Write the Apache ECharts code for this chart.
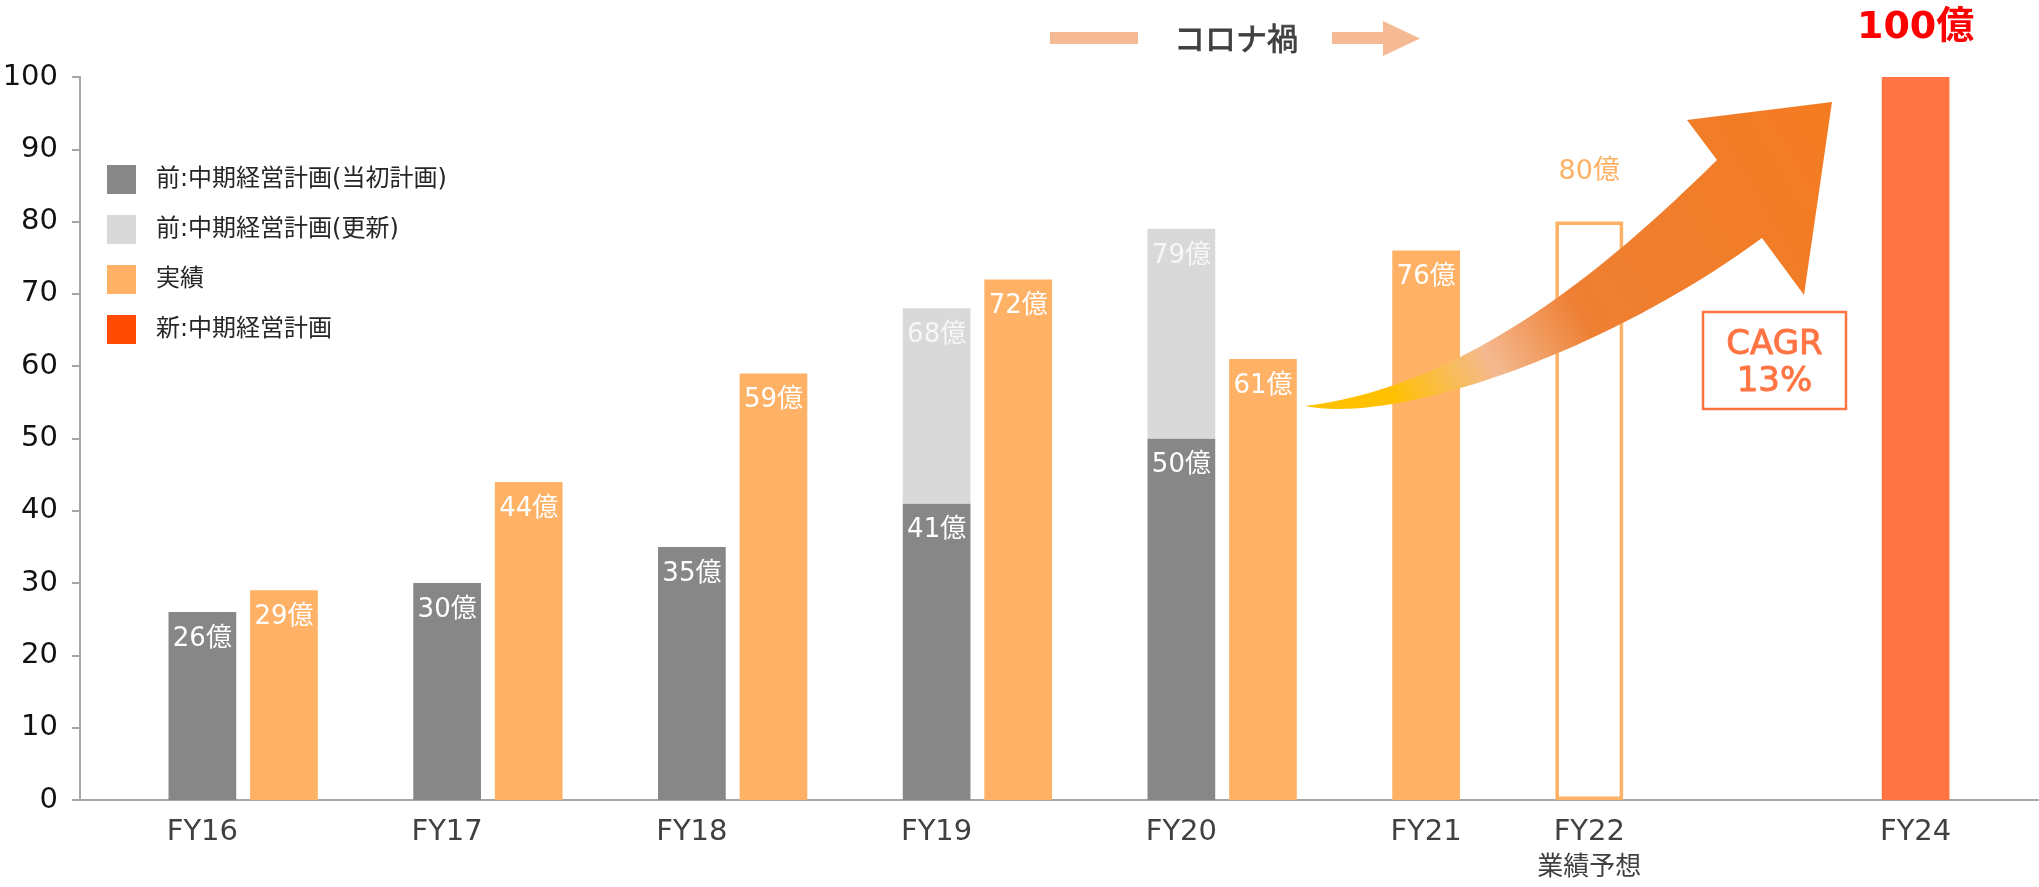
<!DOCTYPE html>
<html lang="ja">
<head>
<meta charset="utf-8">
<title>売上推移</title>
<script src="https://cdn.jsdelivr.net/npm/echarts@6/dist/echarts.min.js"></script>
<style>
  html, body { margin: 0; padding: 0; background: #fff; }
  #chart { width: 2039px; height: 887px; }
</style>
</head>
<body>
<div id="chart"></div>
<script>
// fiscal years on the x axis
const fiscalYears = ['FY16', 'FY17', 'FY18', 'FY19', 'FY20', 'FY21', 'FY22', 'FY24'];
// 売上 (億円) per fiscal year, null = no bar
const planOriginal = [26, 30, 35, 41, 50, null, null, null];        // 前:中期経営計画(当初計画)
const planRevised  = [null, null, null, 68, 79, null, null, null];  // 前:中期経営計画(更新)
const actuals      = [29, 44, 59, 72, 61, 76, null, null];          // 実績
const forecast     = [null, null, null, null, null, null, 80, null]; // 業績予想
const newPlan      = [null, null, null, null, null, null, null, 100]; // 新:中期経営計画
const yMin = 0, yMax = 100, yStep = 10;

// each x-axis slot holds one bar: [fiscal year, kind]; null is a spacer slot
const slots = [
  null, ['FY16', 'plan'], ['FY16', 'actual'],
  null, ['FY17', 'plan'], ['FY17', 'actual'],
  null, ['FY18', 'plan'], ['FY18', 'actual'],
  null, ['FY19', 'plan'], ['FY19', 'actual'],
  null, ['FY20', 'plan'], ['FY20', 'actual'],
  null, ['FY21', 'actual'],
  null, ['FY22', 'forecast'],
  null, null, null, ['FY24', 'new'],
  null
];

const FONT = "'DejaVu Sans', 'Noto Sans CJK JP', sans-serif";
const GRAY = '#878787', LIGHT = '#D9D9D9', ORANGE = '#FFB266', NEW = '#FF7442';

const categories = slots.map((s, i) => 'slot' + i);
const slotLabels = slots.map((s, i) => {
  if (!s) return '';
  const prev = slots[i - 1];
  if (prev && prev[0] === s[0]) return '';
  return s[0] === 'FY22' ? 'FY22\n{sub|業績予想}' : s[0];
});

function slotData(kind, values) {
  return slots.map(s => (s && s[1] === kind) ? values[fiscalYears.indexOf(s[0])] : null);
}
const revisedPart = planRevised.map((v, i) => v == null ? null : v - planOriginal[i]);

const inLabel = {
  show: true, position: 'insideTop', distance: 12,
  color: '#fff', fontSize: 26, lineHeight: 30, fontFamily: FONT,
  formatter: p => p.value + '億'
};

// decorative growth arrow
function cubic(p0, p1, p2, p3, n) {
  const pts = [];
  for (let i = 0; i <= n; i++) {
    const t = i / n, u = 1 - t;
    const a = u * u * u, b = 3 * u * u * t, c = 3 * u * t * t, d = t * t * t;
    pts.push([a * p0[0] + b * p1[0] + c * p2[0] + d * p3[0],
              a * p0[1] + b * p1[1] + c * p2[1] + d * p3[1]]);
  }
  return pts;
}
const arrowPts = [].concat(
  cubic([1305, 406], [1480, 385], [1630, 245], [1717, 160], 40),
  [[1687, 120], [1832, 102], [1804, 295]],
  cubic([1762, 238], [1610, 350], [1400, 425], [1305, 406], 40)
);

const chart = echarts.init(document.getElementById('chart'));
chart.setOption({
  animation: false,
  backgroundColor: '#fff',
  grid: { left: 80, right: 1, top: 77, bottom: 87, containLabel: false, outerBoundsMode: 'none' },
  legend: {
    orient: 'vertical',
    left: 102,
    top: 160,
    itemWidth: 29,
    itemHeight: 29,
    itemGap: 21,
    icon: 'rect',
    selectedMode: false,
    textStyle: { fontSize: 24, color: '#262626', fontFamily: FONT, padding: [0, 0, 0, 15] },
    data: [
      '前:中期経営計画(当初計画)',
      '前:中期経営計画(更新)',
      '実績',
      { name: '新:中期経営計画', itemStyle: { color: '#FF4A00' } }
    ]
  },
  xAxis: {
    type: 'category',
    data: categories,
    axisLine: { lineStyle: { color: '#A6A6A6', width: 2 } },
    axisTick: { interval: 0, length: 7, lineStyle: { color: '#A6A6A6', width: 2 } },
    axisLabel: {
      interval: 0,
      margin: 14,
      fontSize: 29,
      lineHeight: 36,
      color: '#404040',
      fontFamily: FONT,
      formatter: (v, i) => slotLabels[i],
      rich: { sub: { fontSize: 26, lineHeight: 36, color: '#404040', fontFamily: FONT } }
    }
  },
  yAxis: {
    type: 'value',
    min: yMin,
    max: yMax,
    interval: yStep,
    axisLine: { show: true, lineStyle: { color: '#A6A6A6', width: 2 } },
    axisTick: { show: true, length: 8, lineStyle: { color: '#A6A6A6', width: 2 } },
    splitLine: { show: false },
    axisLabel: { margin: 22, fontSize: 29, color: '#111', fontFamily: FONT }
  },
  series: [
    {
      name: '前:中期経営計画(当初計画)', type: 'bar', stack: 'plan',
      barWidth: '83%', barGap: '-100%',
      itemStyle: { color: GRAY },
      label: inLabel,
      data: slotData('plan', planOriginal)
    },
    {
      name: '前:中期経営計画(更新)', type: 'bar', stack: 'plan',
      barWidth: '83%', barGap: '-100%',
      itemStyle: { color: LIGHT },
      label: Object.assign({}, inLabel, {
        color: '#F7F7F7',
        formatter: p => planRevised[fiscalYears.indexOf(slots[p.dataIndex][0])] + '億'
      }),
      data: slotData('plan', revisedPart)
    },
    {
      name: '実績', type: 'bar',
      barWidth: '83%', barGap: '-100%',
      itemStyle: { color: ORANGE },
      label: inLabel,
      data: slotData('actual', actuals)
    },
    {
      name: '業績予想', type: 'bar',
      barWidth: '83%', barGap: '-100%',
      itemStyle: { color: 'rgba(255,255,255,0)', borderColor: ORANGE, borderWidth: 3.5 },
      label: {
        show: true, position: 'top', distance: 35,
        color: ORANGE, fontSize: 27, lineHeight: 30, fontFamily: FONT,
        formatter: p => p.value + '億'
      },
      data: slotData('forecast', forecast)
    },
    {
      name: '新:中期経営計画', type: 'bar',
      barWidth: '83%', barGap: '-100%',
      itemStyle: { color: NEW },
      label: {
        show: true, position: 'top', distance: 29,
        color: '#FF0000', fontSize: 38, fontWeight: 'bold', lineHeight: 40, fontFamily: FONT,
        formatter: p => p.value + '億'
      },
      data: slotData('new', newPlan)
    }
  ],
  graphic: [
    // コロナ禍 banner
    { type: 'rect', z: 100, shape: { x: 1050, y: 32, width: 88, height: 12 }, style: { fill: '#F5BA94' } },
    {
      type: 'text', z: 100, x: 1236, y: 42,
      style: { text: 'コロナ禍', fontSize: 31, fontFamily: FONT, fill: '#404040', stroke: '#404040', lineWidth: 0.8, align: 'center', verticalAlign: 'middle' }
    },
    {
      type: 'polygon', z: 100,
      shape: { points: [[1332, 32], [1383, 32], [1383, 21], [1420, 38.5], [1383, 56], [1383, 44], [1332, 44]] },
      style: { fill: '#F5BA94' }
    },
    // growth arrow
    {
      type: 'polygon', z: 100,
      shape: { points: arrowPts },
      style: {
        fill: new echarts.graphic.LinearGradient(1305, 406, 1831, 101, [
          { offset: 0, color: '#FFC000' },
          { offset: 0.13, color: '#FFC000' },
          { offset: 0.30, color: '#F4B990' },
          { offset: 0.47, color: '#EE7F33' },
          { offset: 1, color: '#F47B20' }
        ], true)
      }
    },
    // CAGR box
    {
      type: 'rect', z: 100,
      shape: { x: 1703, y: 312, width: 143, height: 97 },
      style: { fill: '#fff', stroke: NEW, lineWidth: 2.5 }
    },
    {
      type: 'text', z: 101, x: 1774.5, y: 345,
      style: { text: 'CAGR', fontSize: 34, fontFamily: FONT, fill: NEW, stroke: NEW, lineWidth: 0.9, align: 'center', verticalAlign: 'middle' }
    },
    {
      type: 'text', z: 101, x: 1774.5, y: 382,
      style: { text: '13%', fontSize: 34, fontFamily: FONT, fill: NEW, stroke: NEW, lineWidth: 0.9, align: 'center', verticalAlign: 'middle' }
    }
  ]
});
</script>
</body>
</html>
